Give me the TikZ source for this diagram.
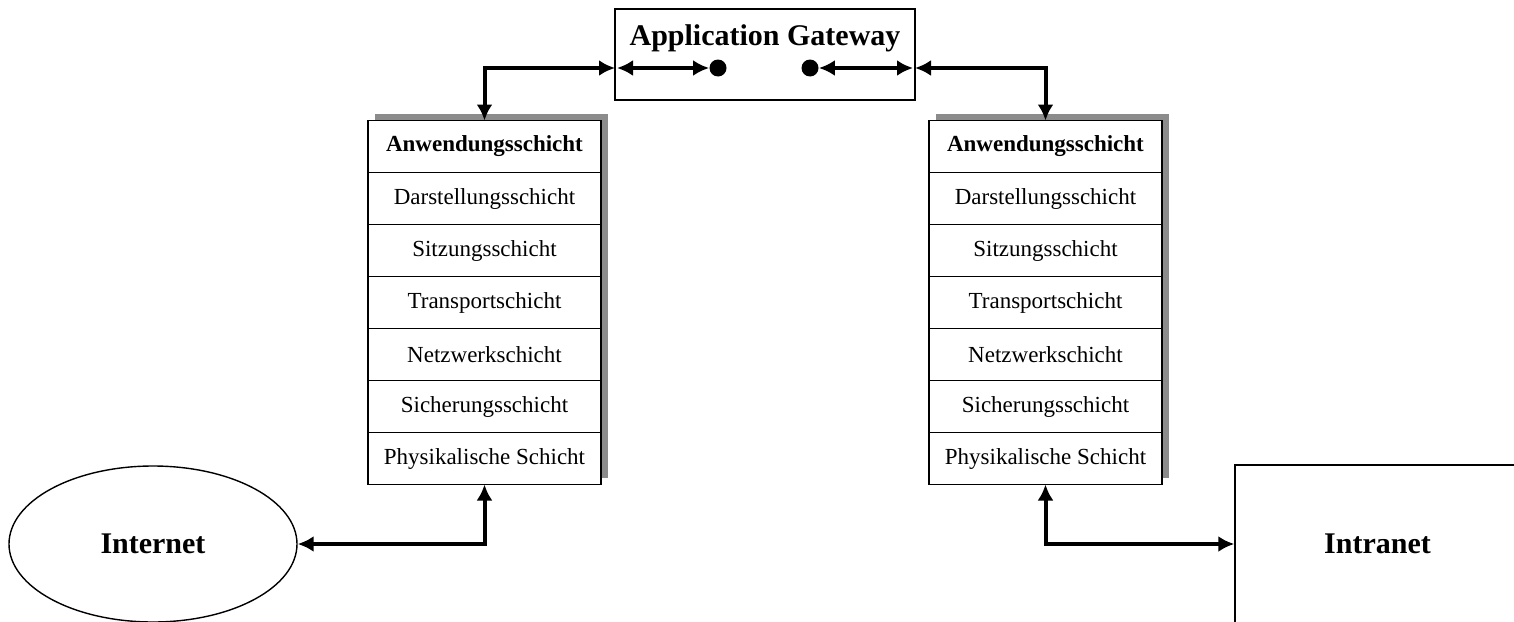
\documentclass[tikz,border=0pt]{standalone}
\usepackage{fontspec}
\setmainfont{Liberation Serif}
\usetikzlibrary{arrows.meta, positioning, shapes.geometric, backgrounds}

\tikzset{
  layer/.style={draw, line width=0.7pt, fill=white, minimum width=116.5pt, minimum height=26pt,
    inner sep=0pt, outer sep=0pt, font=\fontsize{11.5}{12}\selectfont},
  toplayer/.style={layer, font=\fontsize{11.5}{12}\selectfont\bfseries},
  conn/.style={line width=2pt, >={Latex[length=8pt,width=8pt]}},
  shadowfill/.style={fill=black!45},
  bigtext/.style={font=\fontsize{15}{16}\selectfont\bfseries}
}

\begin{document}
\begin{tikzpicture}[x=0.5pt, y=-0.5pt]

\useasboundingbox (0,0) rectangle (1514,621);
\clip (0,0) rectangle (1514,621);

% gateway
\node[draw, line width=0.7pt, minimum width=150pt, inner sep=0pt, text height=18.5pt, text depth=27pt,
  bigtext] (gw) at (765,54.5) {Application Gateway};
\coordinate (gwl) at (615,68);
\coordinate (gwr) at (915,68);
\node[circle, fill, inner sep=0pt, minimum size=8.5pt] (dl) at (718,68) {};
\node[circle, fill, inner sep=0pt, minimum size=8.5pt] (dr) at (810,68) {};

% left stack
\node[toplayer] (l1) at (484.5,146.5) {Anwendungsschicht};
\node[layer, below=0pt of l1] (l2) {Darstellungsschicht};
\node[layer, below=0pt of l2] (l3) {Sitzungsschicht};
\node[layer, below=0pt of l3] (l4) {Transportschicht};
\node[layer, below=0pt of l4] (l5) {Netzwerkschicht};
\node[layer, below=0pt of l5] (l6) {Sicherungsschicht};
\node[layer, below=0pt of l6] (l7) {Physikalische Schicht};

% right stack
\node[toplayer] (r1) at (1045.5,146.5) {Anwendungsschicht};
\node[layer, below=0pt of r1] (r2) {Darstellungsschicht};
\node[layer, below=0pt of r2] (r3) {Sitzungsschicht};
\node[layer, below=0pt of r3] (r4) {Transportschicht};
\node[layer, below=0pt of r4] (r5) {Netzwerkschicht};
\node[layer, below=0pt of r5] (r6) {Sicherungsschicht};
\node[layer, below=0pt of r6] (r7) {Physikalische Schicht};

\begin{scope}[on background layer]
\fill[shadowfill] ([shift={(7,-7)}]l1.north west) rectangle ([shift={(7,-7)}]l7.south east);
\fill[shadowfill] ([shift={(7,-7)}]r1.north west) rectangle ([shift={(7,-7)}]r7.south east);
\end{scope}

% networks
\node[draw, ellipse, line width=0.7pt, minimum width=144pt, minimum height=78pt, bigtext]
  (inet) at (153,544) {Internet};
\node[draw, line width=0.7pt, minimum width=142.5pt, minimum height=79pt, bigtext]
  (intra) at (1377.5,544) {Intranet};

% connections
\draw[conn, <->] (l1.north) |- (gwl);
\draw[conn, <->] ([xshift=1pt]gwl) -- (dl);
\draw[conn, <->] (dr) -- ([xshift=-1pt]gwr);
\draw[conn, <->] (gwr) -| (r1.north);
\draw[conn, <->] (l7.south) |- (inet.east);
\draw[conn, <->] (r7.south) |- (intra.west);

\end{tikzpicture}
\end{document}
